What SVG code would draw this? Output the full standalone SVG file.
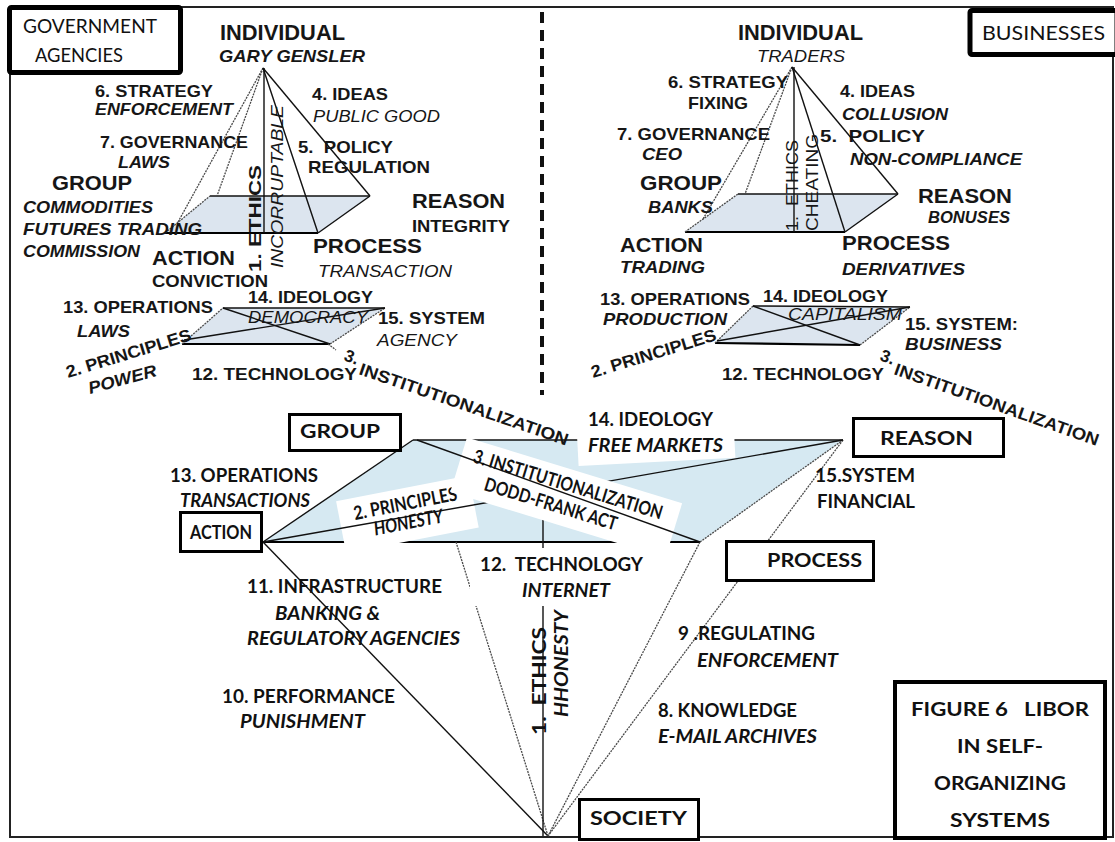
<svg xmlns="http://www.w3.org/2000/svg" width="1115" height="842" viewBox="0 0 1115 842">
<style>
.t{font-family:"Liberation Sans",Arial,sans-serif;font-weight:bold;font-size:17px;fill:#161616}
.i{font-style:italic}
.n{font-weight:normal}
.L{font-size:21px}
.X{font-size:22px}
.c{font-family:Lato,"Open Sans",sans-serif;font-weight:bold;font-size:19px;fill:#111}
.cn{font-weight:normal}
.box{fill:#fff;stroke:#000;stroke-width:3}
.tbox{fill:#fff;stroke:#000;stroke-width:5}
.k{stroke:#111;stroke-width:1.4;fill:none}
.kb{stroke:#000;stroke-width:2.2;fill:none}
.g{stroke:#4a4a4a;stroke-width:1.3;fill:none;stroke-dasharray:2 1}
.bt{fill:#dce5ef}
.bb{fill:#d6e9f2}
</style>
<rect x="10" y="7" width="1103" height="830" fill="#fff" stroke="#222" stroke-width="2"/>
<line x1="542" y1="12" x2="542" y2="395" stroke="#111" stroke-width="4" stroke-dasharray="11 7"/>

<g id="bases">
<polygon class="bt" points="210,196 370,196 318,233 165,233"/>
<polygon class="bt" points="223,308 385,308 330,344 182,344"/>
<polygon class="bt" points="738,194 898,194 845,232 685,232"/>
<polygon class="bt" points="753,306 910,307 860,345 715,343"/>
<polygon class="bb" points="413,440 843,440 700,542 263,542"/>
</g>

<g id="connectors">
<line class="k" x1="210" y1="196" x2="370" y2="196"/>
<line class="kb" x1="165" y1="233" x2="318" y2="233"/>
<line class="g" x1="165" y1="233" x2="210" y2="196"/>
<line class="k" x1="318" y1="233" x2="370" y2="196"/>
<line class="g" x1="263" y1="68" x2="178" y2="222"/>
<line class="g" x1="263" y1="68" x2="217" y2="196"/>
<line class="k" x1="263" y1="68" x2="318" y2="233"/>
<line class="k" x1="263" y1="68" x2="370" y2="196"/>
<line class="k" x1="264" y1="68" x2="264" y2="233"/>
<line class="k" x1="223" y1="308" x2="385" y2="308"/>
<line class="kb" x1="182" y1="344" x2="330" y2="344"/>
<line class="g" x1="182" y1="344" x2="223" y2="308"/>
<line class="g" x1="330" y1="344" x2="385" y2="308"/>
<line class="k" x1="223" y1="308" x2="330" y2="344"/>
<line class="k" x1="184" y1="340" x2="385" y2="308"/>
<line class="g" x1="328" y1="344" x2="336" y2="350"/>
<line class="k" x1="738" y1="194" x2="898" y2="194"/>
<line class="kb" x1="685" y1="232" x2="845" y2="232"/>
<line class="g" x1="685" y1="232" x2="738" y2="194"/>
<line class="k" x1="845" y1="232" x2="898" y2="194"/>
<line class="g" x1="792" y1="67" x2="703" y2="219"/>
<line class="g" x1="792" y1="67" x2="745" y2="194"/>
<line class="k" x1="792" y1="67" x2="845" y2="232"/>
<line class="k" x1="792" y1="67" x2="898" y2="194"/>
<line class="k" x1="794" y1="67" x2="794" y2="232"/>
<line class="k" x1="753" y1="306" x2="910" y2="307"/>
<line class="kb" x1="715" y1="343" x2="860" y2="345"/>
<line class="g" x1="715" y1="343" x2="753" y2="306"/>
<line class="g" x1="860" y1="345" x2="910" y2="307"/>
<line class="k" x1="753" y1="306" x2="860" y2="345"/>
<line class="k" x1="717" y1="341" x2="910" y2="307"/>
<line class="kb" x1="263" y1="542" x2="700" y2="542"/>
<line class="k" x1="413" y1="440" x2="843" y2="440"/>
<line class="k" x1="263" y1="542" x2="413" y2="440"/>
<line class="g" x1="700" y1="542" x2="843" y2="440"/>
<line class="k" x1="263" y1="542" x2="548" y2="836"/>
<line class="g" x1="456" y1="542" x2="548" y2="836"/>
<line class="g" x1="700" y1="542" x2="548" y2="836"/>
<line class="g" x1="843" y1="440" x2="548" y2="836"/>
<line class="k" x1="543" y1="470" x2="543" y2="836"/>
</g>

<g id="label-principles">
<g transform="translate(355,520) rotate(-11)">
<rect x="-15" y="-22" width="135" height="53" fill="#fff"/>
<text class="c" x="0" y="0" textLength="105" lengthAdjust="spacingAndGlyphs">2. PRINCIPLES</text>
<text class="c i" x="17" y="19" textLength="70" lengthAdjust="spacingAndGlyphs">HONESTY</text>
</g>
</g>
<line class="k" x1="263" y1="542" x2="843" y2="440"/>
<g id="label-institutionalization">
<g transform="translate(472,462) rotate(17)">
<rect x="-12" y="-22" width="225" height="57" fill="#fff"/>
<text class="c" x="0" y="0" textLength="197" lengthAdjust="spacingAndGlyphs">3. INSTITUTIONALIZATION</text>
<text class="c" x="18.7" y="23.6" textLength="138" lengthAdjust="spacingAndGlyphs">DODD-FRANK ACT</text>
</g>
</g>
<line class="k" x1="417" y1="440" x2="700" y2="542"/>
<g id="label-ideology">
<rect x="577" y="405" width="157" height="57" fill="#fff" transform="rotate(-3 655 433)"/>
<text class="c" x="588" y="426" textLength="125" lengthAdjust="spacingAndGlyphs">14. IDEOLOGY</text>
<text class="c i" x="588" y="452" textLength="135" lengthAdjust="spacingAndGlyphs">FREE MARKETS</text>
</g>
<g id="label-technology">
<rect x="470" y="548" width="180" height="58" fill="#fff"/>
<text class="c" x="480" y="571" textLength="163" lengthAdjust="spacingAndGlyphs" xml:space="preserve">12.  TECHNOLOGY</text>
<text class="c i" x="522" y="597" textLength="88" lengthAdjust="spacingAndGlyphs">INTERNET</text>
</g>

<g id="gov-agencies">
<rect class="tbox" x="9.5" y="7.5" width="171" height="65" rx="2"/>
<text class="c cn" x="23" y="33" font-size="18" textLength="134" lengthAdjust="spacingAndGlyphs">GOVERNMENT</text>
<text class="c cn" x="35" y="62" font-size="18" textLength="88" lengthAdjust="spacingAndGlyphs">AGENCIES</text>
</g>
<g id="businesses">
<rect class="tbox" x="970" y="10.5" width="147" height="44" rx="2"/>
<text class="c cn" x="982" y="40" font-size="19" textLength="123" lengthAdjust="spacingAndGlyphs">BUSINESSES</text>
</g>

<g id="gov-pyramid">
<text class="t X" x="220" y="40" textLength="125" lengthAdjust="spacingAndGlyphs">INDIVIDUAL</text>
<text class="t i" x="219" y="62" textLength="146" lengthAdjust="spacingAndGlyphs">GARY GENSLER</text>
<text class="t" x="95" y="97" textLength="118" lengthAdjust="spacingAndGlyphs">6. STRATEGY</text>
<text class="t i" x="95" y="115" textLength="138" lengthAdjust="spacingAndGlyphs">ENFORCEMENT</text>
<text class="t" x="100" y="148" textLength="148" lengthAdjust="spacingAndGlyphs">7. GOVERNANCE</text>
<text class="t i" x="118" y="168" textLength="52" lengthAdjust="spacingAndGlyphs">LAWS</text>
<text class="t L" x="52" y="190" textLength="80" lengthAdjust="spacingAndGlyphs">GROUP</text>
<text class="t i" x="23" y="213" textLength="130" lengthAdjust="spacingAndGlyphs">COMMODITIES</text>
<text class="t i" x="23" y="235" textLength="179" lengthAdjust="spacingAndGlyphs">FUTURES TRADING</text>
<text class="t i" x="23" y="257" textLength="117" lengthAdjust="spacingAndGlyphs">COMMISSION</text>
<text class="t L" x="152" y="265" textLength="83" lengthAdjust="spacingAndGlyphs">ACTION</text>
<text class="t" x="152" y="287" textLength="116" lengthAdjust="spacingAndGlyphs">CONVICTION</text>
<text class="t" x="63" y="313" textLength="150" lengthAdjust="spacingAndGlyphs">13. OPERATIONS</text>
<text class="t i" x="77" y="337" textLength="53" lengthAdjust="spacingAndGlyphs">LAWS</text>
<text class="t" transform="translate(68,378) rotate(-17)" textLength="130" lengthAdjust="spacingAndGlyphs">2. PRINCIPLES</text>
<text class="t i" transform="translate(90,394) rotate(-15)" textLength="70" lengthAdjust="spacingAndGlyphs">POWER</text>
<text class="t" x="192" y="380" textLength="165" lengthAdjust="spacingAndGlyphs">12. TECHNOLOGY</text>
<text class="t" font-size="14" transform="translate(343,360) rotate(20)">3.</text>
<text class="t" transform="translate(358,374) rotate(19)" textLength="220" lengthAdjust="spacingAndGlyphs">INSTITUTIONALIZATION</text>
<text class="t" x="248" y="303" textLength="125" lengthAdjust="spacingAndGlyphs">14. IDEOLOGY</text>
<text class="t i n" x="248" y="323" textLength="120" lengthAdjust="spacingAndGlyphs">DEMOCRACY</text>
<text class="t" x="378" y="324" textLength="107" lengthAdjust="spacingAndGlyphs">15. SYSTEM</text>
<text class="t i n" x="377" y="346" textLength="80" lengthAdjust="spacingAndGlyphs">AGENCY</text>
<text class="t" x="312" y="100" textLength="76" lengthAdjust="spacingAndGlyphs">4. IDEAS</text>
<text class="t i n" x="313" y="122" textLength="127" lengthAdjust="spacingAndGlyphs">PUBLIC GOOD</text>
<text class="t" x="298" y="153" textLength="95" lengthAdjust="spacingAndGlyphs" xml:space="preserve">5.  POLICY</text>
<text class="t" x="308" y="173" textLength="122" lengthAdjust="spacingAndGlyphs">REGULATION</text>
<text class="t L" x="412" y="208" textLength="93" lengthAdjust="spacingAndGlyphs">REASON</text>
<text class="t" x="412" y="232" textLength="98" lengthAdjust="spacingAndGlyphs">INTEGRITY</text>
<text class="t L" x="313" y="253" textLength="109" lengthAdjust="spacingAndGlyphs">PROCESS</text>
<text class="t i n" x="318" y="277" textLength="134" lengthAdjust="spacingAndGlyphs">TRANSACTION</text>
<text class="t" font-size="20" transform="translate(261,272) rotate(-90)" textLength="107" lengthAdjust="spacingAndGlyphs">1. ETHICS</text>
<text class="t i n" font-size="19" transform="translate(283,268) rotate(-90)" textLength="163" lengthAdjust="spacingAndGlyphs">INCORRUPTABLE</text>
</g>

<g id="business-pyramid">
<text class="t X" x="738" y="40" textLength="125" lengthAdjust="spacingAndGlyphs">INDIVIDUAL</text>
<text class="t i n" x="757" y="62" textLength="88" lengthAdjust="spacingAndGlyphs">TRADERS</text>
<text class="t" x="668" y="88" textLength="120" lengthAdjust="spacingAndGlyphs">6. STRATEGY</text>
<text class="t" x="688" y="109" textLength="60" lengthAdjust="spacingAndGlyphs">FIXING</text>
<text class="t" x="617" y="140" textLength="153" lengthAdjust="spacingAndGlyphs">7. GOVERNANCE</text>
<text class="t i" x="642" y="160" textLength="40" lengthAdjust="spacingAndGlyphs">CEO</text>
<text class="t L" x="640" y="190" textLength="82" lengthAdjust="spacingAndGlyphs">GROUP</text>
<text class="t i" x="648" y="213" textLength="65" lengthAdjust="spacingAndGlyphs">BANKS</text>
<text class="t L" x="620" y="252" textLength="83" lengthAdjust="spacingAndGlyphs">ACTION</text>
<text class="t i" x="620" y="273" textLength="85" lengthAdjust="spacingAndGlyphs">TRADING</text>
<text class="t" x="600" y="305" textLength="150" lengthAdjust="spacingAndGlyphs">13. OPERATIONS</text>
<text class="t i" x="603" y="325" textLength="124" lengthAdjust="spacingAndGlyphs">PRODUCTION</text>
<text class="t" transform="translate(593,378) rotate(-17)" textLength="130" lengthAdjust="spacingAndGlyphs">2. PRINCIPLES</text>
<text class="t" x="722" y="380" textLength="162" lengthAdjust="spacingAndGlyphs">12. TECHNOLOGY</text>
<text class="t" font-size="14" transform="translate(879,360) rotate(20)">3.</text>
<text class="t" transform="translate(893,374) rotate(19.5)" textLength="216" lengthAdjust="spacingAndGlyphs">INSTITUTIONALIZATION</text>
<text class="t" x="763" y="302" textLength="125" lengthAdjust="spacingAndGlyphs">14. IDEOLOGY</text>
<text class="t i n" x="788" y="320" textLength="114" lengthAdjust="spacingAndGlyphs">CAPITALISM</text>
<text class="t" x="905" y="330" textLength="113" lengthAdjust="spacingAndGlyphs">15. SYSTEM:</text>
<text class="t i" x="905" y="350" textLength="97" lengthAdjust="spacingAndGlyphs">BUSINESS</text>
<text class="t L" x="842" y="250" textLength="108" lengthAdjust="spacingAndGlyphs">PROCESS</text>
<text class="t i" x="842" y="275" textLength="123" lengthAdjust="spacingAndGlyphs">DERIVATIVES</text>
<text class="t L" x="918" y="203" textLength="94" lengthAdjust="spacingAndGlyphs">REASON</text>
<text class="t i" x="928" y="223" textLength="82" lengthAdjust="spacingAndGlyphs">BONUSES</text>
<text class="t" x="840" y="97" textLength="75" lengthAdjust="spacingAndGlyphs">4. IDEAS</text>
<text class="t i" x="842" y="120" textLength="106" lengthAdjust="spacingAndGlyphs">COLLUSION</text>
<text class="t" x="820" y="142" textLength="105" lengthAdjust="spacingAndGlyphs" xml:space="preserve">5.  POLICY</text>
<text class="t i" x="850" y="165" textLength="172" lengthAdjust="spacingAndGlyphs">NON-COMPLIANCE</text>
<text class="t n" transform="translate(798,231) rotate(-90)" textLength="91" lengthAdjust="spacingAndGlyphs" xml:space="preserve">1.  ETHICS</text>
<text class="t n" font-size="18" transform="translate(818,231) rotate(-90)" textLength="97" lengthAdjust="spacingAndGlyphs">CHEATING</text>
</g>

<g id="node-group"><rect class="box" x="289.5" y="414.5" width="111" height="36"/>
<text class="c" x="300" y="438" textLength="80" lengthAdjust="spacingAndGlyphs">GROUP</text></g>
<g id="node-reason"><rect class="box" x="853.5" y="418.5" width="150" height="38"/>
<text class="c" x="880" y="445" textLength="93" lengthAdjust="spacingAndGlyphs">REASON</text></g>
<g id="node-action"><rect class="box" x="180.5" y="512.5" width="81" height="39"/>
<text class="c" x="221" y="539" text-anchor="middle" textLength="62" lengthAdjust="spacingAndGlyphs">ACTION</text></g>
<g id="node-process"><rect class="box" x="726.5" y="541.5" width="147" height="39"/>
<text class="c" x="767" y="567" textLength="95" lengthAdjust="spacingAndGlyphs">PROCESS</text></g>
<g id="node-society"><rect class="box" x="579.5" y="799.5" width="119" height="40"/>
<text class="c" x="590" y="825" textLength="97" lengthAdjust="spacingAndGlyphs">SOCIETY</text></g>

<g id="bottom-labels">
<text class="c" x="170" y="482" textLength="148" lengthAdjust="spacingAndGlyphs">13. OPERATIONS</text>
<text class="c i" x="180" y="507" textLength="130" lengthAdjust="spacingAndGlyphs">TRANSACTIONS</text>
<text class="c" x="815" y="482" textLength="100" lengthAdjust="spacingAndGlyphs">15.SYSTEM</text>
<text class="c" x="817" y="508" textLength="98" lengthAdjust="spacingAndGlyphs">FINANCIAL</text>
<text class="c" x="247" y="593" textLength="195" lengthAdjust="spacingAndGlyphs">11. INFRASTRUCTURE</text>
<text class="c i" x="275" y="620" textLength="105" lengthAdjust="spacingAndGlyphs">BANKING &amp;</text>
<text class="c i" x="247" y="645" textLength="213" lengthAdjust="spacingAndGlyphs">REGULATORY AGENCIES</text>
<text class="c" x="222" y="703" textLength="173" lengthAdjust="spacingAndGlyphs">10. PERFORMANCE</text>
<text class="c i" x="240" y="728" textLength="125" lengthAdjust="spacingAndGlyphs">PUNISHMENT</text>
<text class="c" x="678" y="640" textLength="137" lengthAdjust="spacingAndGlyphs">9 .REGULATING</text>
<text class="c i" x="697" y="667" textLength="141" lengthAdjust="spacingAndGlyphs">ENFORCEMENT</text>
<text class="c" x="658" y="717" textLength="139" lengthAdjust="spacingAndGlyphs">8. KNOWLEDGE</text>
<text class="c i" x="658" y="743" textLength="159" lengthAdjust="spacingAndGlyphs">E-MAIL ARCHIVES</text>
<text class="c" font-size="18" transform="translate(546,735) rotate(-90)" textLength="108" lengthAdjust="spacingAndGlyphs" xml:space="preserve">1.  ETHICS</text>
<text class="c i" font-size="18" transform="translate(568,717) rotate(-90)" textLength="107" lengthAdjust="spacingAndGlyphs">HHONESTY</text>
</g>

<g id="figure-title">
<rect x="895" y="682" width="210" height="156" fill="#fff" stroke="#000" stroke-width="4"/>
<text class="c" x="1000" y="716" font-size="21" text-anchor="middle" textLength="178" lengthAdjust="spacingAndGlyphs" xml:space="preserve">FIGURE 6   LIBOR</text>
<text class="c" x="1000" y="753" font-size="21" text-anchor="middle" textLength="86" lengthAdjust="spacingAndGlyphs">IN SELF-</text>
<text class="c" x="1000" y="790" font-size="21" text-anchor="middle" textLength="132" lengthAdjust="spacingAndGlyphs">ORGANIZING</text>
<text class="c" x="1000" y="827" font-size="21" text-anchor="middle" textLength="100" lengthAdjust="spacingAndGlyphs">SYSTEMS</text>
</g>
</svg>
